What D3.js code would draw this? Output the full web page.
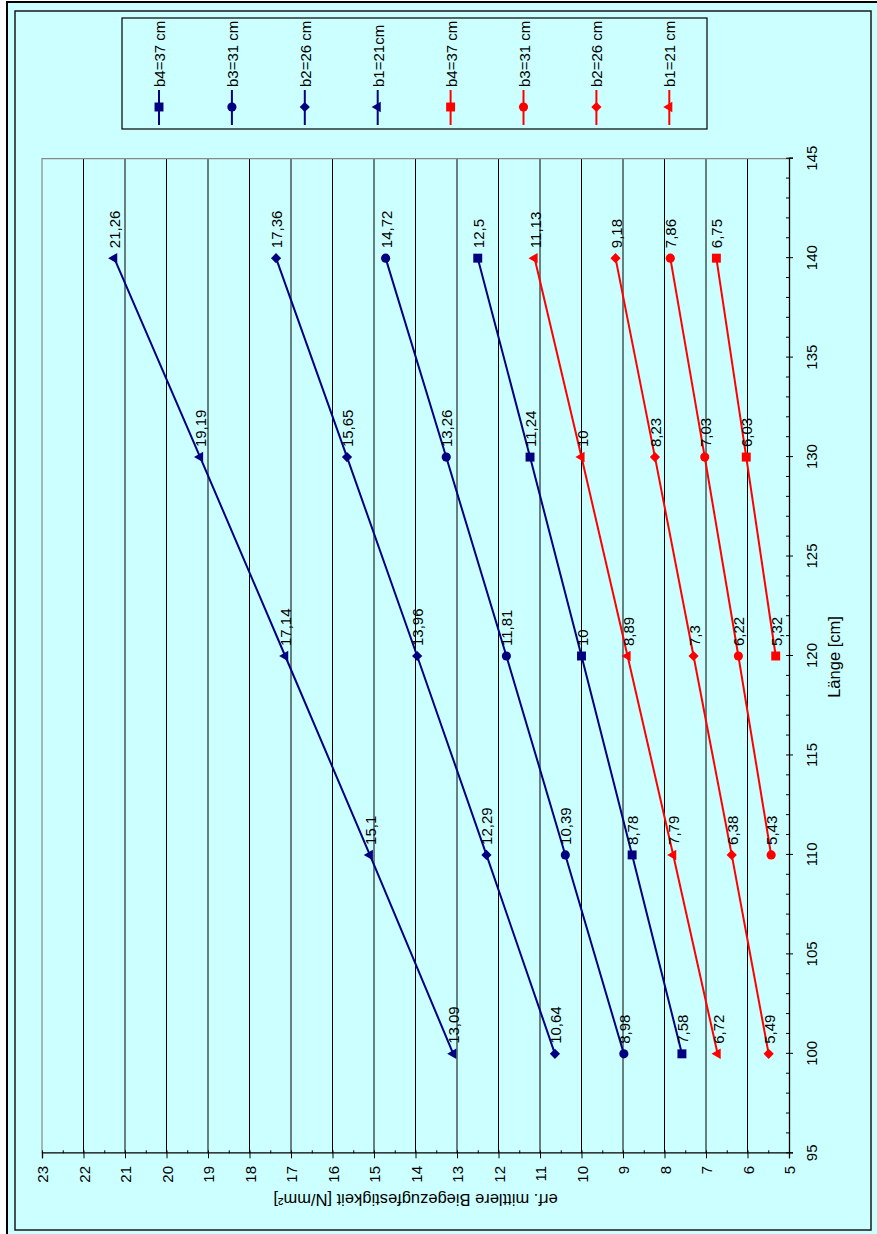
<!DOCTYPE html>
<html>
<head>
<meta charset="utf-8">
<script src="https://cdn.jsdelivr.net/npm/d3@7"></script>
<style>
  html, body { margin: 0; padding: 0; background: #ffffff; }
  svg { display: block; }
  text { font-family: "Liberation Sans", Arial, sans-serif; fill: #000; }
</style>
</head>
<body>
<svg id="chart" width="877" height="1234"></svg>
<script>
// Lengths on the category axis [cm]
const lengths = [100, 110, 120, 130, 140];

// Required mean bending tensile strength [N/mm²] per width b
const blueB4 = [7.58, 8.78, 10, 11.24, 12.5];
const blueB3 = [8.98, 10.39, 11.81, 13.26, 14.72];
const blueB2 = [10.64, 12.29, 13.96, 15.65, 17.36];
const blueB1 = [13.09, 15.1, 17.14, 19.19, 21.26];
const redB4 = [null, null, 5.32, 6.03, 6.75];
const redB3 = [null, 5.43, 6.22, 7.03, 7.86];
const redB2 = [5.49, 6.38, 7.3, 8.23, 9.18];
const redB1 = [6.72, 7.79, 8.89, 10, 11.13];

const seriesNames = ["b4=37 cm", "b3=31 cm", "b2=26 cm", "b1=21cm",
                     "b4=37 cm", "b3=31 cm", "b2=26 cm", "b1=21 cm"];
const seriesValues = [blueB4, blueB3, blueB2, blueB1, redB4, redB3, redB2, redB1];
const seriesColors = ["#000080", "#000080", "#000080", "#000080",
                      "#ff0000", "#ff0000", "#ff0000", "#ff0000"];
const seriesShapes = ["square", "circle", "diamond", "triangle",
                      "square", "circle", "diamond", "triangle"];

// Axis ticks
const lengthTicks = [95, 100, 105, 110, 115, 120, 125, 130, 135, 140, 145];
const lengthMinorTicks = d3.range(95, 146, 1);
const strengthTicks = d3.range(5, 24, 1);
const strengthMinorTicks = d3.range(5, 23.01, 0.5);

const xTitle = "Länge [cm]";
const yTitle = "erf. mittlere Biegezugfestigkeit [N/mm²]";

const svg = d3.select("#chart");
const BG = "#ccffff";

// Chart frame
svg.append("rect").attr("x", 7).attr("y", 2).attr("width", 880).attr("height", 1240)
  .attr("fill", BG).attr("stroke", "#000").attr("stroke-width", 2);
svg.append("rect").attr("x", 15).attr("y", 11).attr("width", 856).attr("height", 1219)
  .attr("fill", "none").attr("stroke", "#1a1a1a").attr("stroke-width", 1.5);

// The whole chart is laid out landscape and turned a quarter turn counter-clockwise
const g = svg.append("g").attr("transform", "translate(0,1234) rotate(-90)");

const x = d3.scaleLinear().domain([95, 145]).range([80.7, 1075.3]);
const y = d3.scaleLinear().domain([5, 23]).range([789, 42]);

// Gridlines
g.append("g").selectAll("line")
  .data(strengthTicks.filter(v => v > 5 && v < 23))
  .join("line")
  .attr("x1", x(95)).attr("x2", x(145))
  .attr("y1", d => y(d)).attr("y2", d => y(d))
  .attr("stroke", "#000").attr("stroke-width", 1);

// Plot area border (top and right)
g.append("path")
  .attr("d", `M${x(95)},${y(23)}H${x(145)}V${y(5)}`)
  .attr("fill", "none").attr("stroke", "#888").attr("stroke-width", 1.2);

// Length axis
const xAxis = g.append("g").attr("transform", `translate(0,${y(5)})`)
  .call(d3.axisBottom(x).tickValues(lengthTicks).tickSize(4).tickPadding(0));
xAxis.select(".domain").attr("stroke", "#000").attr("stroke-width", 1.3);
xAxis.selectAll(".tick line").attr("stroke", "#000");
xAxis.selectAll("text").attr("y", 22.5).attr("dy", null)
  .attr("dominant-baseline", "central")
  .style("font-size", "15px").style("font-family", "'Liberation Sans', Arial, sans-serif");
const xMinor = g.append("g").attr("transform", `translate(0,${y(5)})`)
  .call(d3.axisTop(x).tickValues(lengthMinorTicks).tickSize(3).tickFormat(""));
xMinor.select(".domain").remove();
xMinor.selectAll(".tick line").attr("stroke", "#000");

// Strength axis
const yAxis = g.append("g").attr("transform", `translate(${x(95)},0)`)
  .call(d3.axisLeft(y).tickValues(strengthTicks).tickSize(5).tickPadding(7.7));
yAxis.select(".domain").attr("stroke", "#000").attr("stroke-width", 1.3);
yAxis.selectAll(".tick line").attr("stroke", "#000");
yAxis.selectAll("text").attr("dy", null).attr("dominant-baseline", "central")
  .style("font-size", "15px").style("font-family", "'Liberation Sans', Arial, sans-serif");
const yMinor = g.append("g").attr("transform", `translate(${x(95)},0)`)
  .call(d3.axisRight(y).tickValues(strengthMinorTicks).tickSize(3).tickFormat(""));
yMinor.select(".domain").remove();
yMinor.selectAll(".tick line").attr("stroke", "#000");

// Axis titles
g.append("text")
  .attr("x", (x(95) + x(145)) / 2 - 1).attr("y", 840)
  .attr("text-anchor", "middle").style("font-size", "16.5px")
  .text(xTitle);
g.append("text")
  .attr("transform", `translate(40,${(y(5) + y(23)) / 2}) rotate(-90)`)
  .attr("text-anchor", "middle").style("font-size", "16.5px")
  .text(yTitle);

// Marker shapes
const symbolFor = {
  square: d3.symbol(d3.symbolSquare, 80),
  circle: d3.symbol(d3.symbolCircle, 66),
  diamond: d3.symbol(d3.symbolSquare, 52),
  triangle: d3.symbol(d3.symbolTriangle, 48)
};
const symbolRot = { square: 0, circle: 0, diamond: 45, triangle: 0 };

const fmt = v => String(v).replace(".", ",");

// Series
const line = d3.line()
  .defined(d => d.v != null)
  .x(d => x(d.len)).y(d => y(d.v));

seriesValues.forEach((vals, i) => {
  const pts = lengths.map((len, j) => ({ len, v: vals[j] }));
  const shown = pts.filter(d => d.v != null);
  const sg = g.append("g");
  sg.append("path").datum(pts)
    .attr("d", line)
    .attr("fill", "none").attr("stroke", seriesColors[i]).attr("stroke-width", 2);
  sg.selectAll("path.mark").data(shown).join("path")
    .attr("class", "mark")
    .attr("d", symbolFor[seriesShapes[i]])
    .attr("transform", d => `translate(${x(d.len)},${y(d.v)}) rotate(${symbolRot[seriesShapes[i]]})`)
    .attr("fill", seriesColors[i]);
});

// Value labels on top of the marks
seriesValues.forEach((vals, i) => {
  const shown = lengths.map((len, j) => ({ len, v: vals[j] })).filter(d => d.v != null);
  g.append("g").selectAll("text").data(shown).join("text")
    .attr("x", d => x(d.len) + 10).attr("y", d => y(d.v) + 0.5)
    .attr("dominant-baseline", "central")
    .style("font-size", "15px")
    .text(d => fmt(d.v));
});

// Legend
const legend = g.append("g");
legend.append("rect")
  .attr("x", 1105).attr("y", 122).attr("width", 111).attr("height", 585)
  .attr("fill", BG).attr("stroke", "#000").attr("stroke-width", 1.2);
seriesNames.forEach((name, i) => {
  const ly = 159 + i * 72.9;
  const item = legend.append("g");
  item.append("line").attr("x1", 1109).attr("x2", 1144).attr("y1", ly).attr("y2", ly)
    .attr("stroke", seriesColors[i]).attr("stroke-width", 2);
  item.append("path")
    .attr("d", symbolFor[seriesShapes[i]])
    .attr("transform", `translate(1127,${ly}) rotate(${symbolRot[seriesShapes[i]]})`)
    .attr("fill", seriesColors[i]);
  item.append("text").attr("x", 1147).attr("y", ly + 0.5)
    .attr("dominant-baseline", "central").style("font-size", "15px")
    .text(name);
});
</script>
</body>
</html>
